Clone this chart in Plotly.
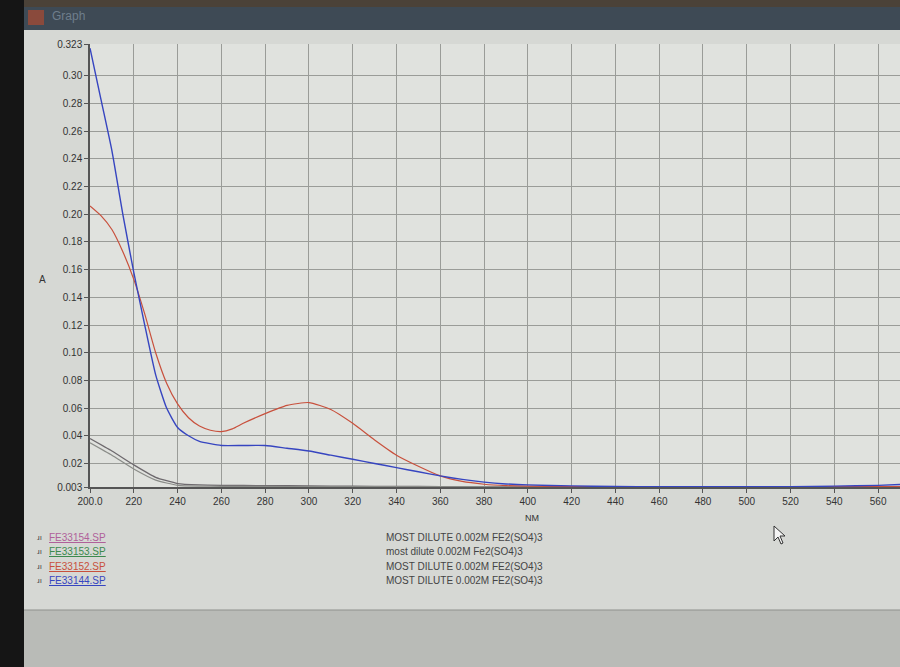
import plotly.graph_objects as go

# ---------------- data ----------------
wl_blue = [200, 205, 210, 215, 220, 225, 230, 235, 240, 245, 250, 260, 270, 280, 290, 300, 310, 320,
           330, 340, 350, 360, 370, 380, 390, 400, 420, 440, 460, 480, 500, 520, 540, 560, 570]
a_blue = [0.320, 0.283, 0.246, 0.200, 0.158, 0.120, 0.084, 0.060, 0.046, 0.040, 0.036, 0.033, 0.033,
          0.033, 0.031, 0.029, 0.026, 0.023, 0.020, 0.017, 0.014, 0.011, 0.0085, 0.0065, 0.0052, 0.0045,
          0.0038, 0.0034, 0.0032, 0.0032, 0.0032, 0.0032, 0.0036, 0.0042, 0.0048]

wl_red = [200, 205, 210, 215, 220, 225, 230, 235, 240, 245, 250, 255, 260, 265, 270, 280, 290, 300,
          310, 320, 330, 340, 350, 360, 370, 380, 390, 400, 420, 440, 480, 520, 560, 570]
a_red = [0.206, 0.199, 0.189, 0.173, 0.153, 0.128, 0.100, 0.078, 0.063, 0.053, 0.047, 0.044, 0.043,
         0.045, 0.049, 0.056, 0.062, 0.064, 0.059, 0.049, 0.037, 0.026, 0.018, 0.011, 0.007, 0.005,
         0.004, 0.0036, 0.0033, 0.0032, 0.0032, 0.0032, 0.0032, 0.0032]

wl_g1 = [200, 210, 220, 230, 240, 250, 260, 280, 300, 320, 340, 360, 400, 450, 500, 570]
a_g1 = [0.038, 0.029, 0.019, 0.010, 0.0055, 0.0045, 0.0042, 0.0040, 0.0038, 0.0036, 0.0034, 0.0033,
        0.0032, 0.0032, 0.0032, 0.0032]

wl_g2 = [200, 210, 220, 230, 240, 250, 260, 280, 300, 320, 340, 360, 400, 450, 500, 570]
a_g2 = [0.035, 0.026, 0.016, 0.008, 0.0042, 0.0036, 0.0035, 0.0034, 0.0033, 0.0032, 0.0032, 0.0032,
        0.0032, 0.0032, 0.0032, 0.0032]

x_ticks = [200, 220, 240, 260, 280, 300, 320, 340, 360, 380, 400, 420, 440, 460, 480, 500, 520, 540, 560]
x_ticktext = ["200.0"] + [str(v) for v in x_ticks[1:]]
y_ticks = [0.003, 0.02, 0.04, 0.06, 0.08, 0.10, 0.12, 0.14, 0.16, 0.18, 0.20, 0.22, 0.24, 0.26,
           0.28, 0.30, 0.323]
y_ticktext = ["0.003", "0.02", "0.04", "0.06", "0.08", "0.10", "0.12", "0.14", "0.16", "0.18",
              "0.20", "0.22", "0.24", "0.26", "0.28", "0.30", "0.323"]

files = ["FE33154.SP", "FE33153.SP", "FE33152.SP", "FE33144.SP"]
descriptions = ["MOST DILUTE 0.002M FE2(SO4)3", "most dilute 0.002M Fe2(SO4)3",
                "MOST DILUTE 0.002M FE2(SO4)3", "MOST DILUTE 0.002M FE2(SO4)3"]
file_colors = ["#b0609a", "#3d8a4e", "#c8503c", "#3645c0"]

# ---------------- figure ----------------
W, H = 900, 667
L, R, T, B = 90, 0, 44, 180
PW, PH = W - L - R, H - T - B


def px(x):
    return (x - L) / PW


def py(y):
    return (H - B - y) / PH


fig = go.Figure()
series = [
    (wl_g1, a_g1, "#6e6a6e", 1.3),
    (wl_g2, a_g2, "#8a8c88", 1.2),
    (wl_red, a_red, "#c8503c", 1.2),
    (wl_blue, a_blue, "#3645c0", 1.4),
]
for x, y, c, w in series:
    fig.add_trace(go.Scatter(x=x, y=y, mode="lines", showlegend=False, hoverinfo="skip",
                             line=dict(color=c, width=w, shape="spline", smoothing=0.5)))

font = dict(family="Liberation Sans, Arial, sans-serif", size=10, color="#333333")

shapes = [
    # dark monitor border on the left
    dict(type="rect", xref="paper", yref="paper", x0=px(0), x1=px(24), y0=py(667), y1=py(0),
         fillcolor="#151515", line=dict(width=0), layer="below"),
    # title bar
    dict(type="rect", xref="paper", yref="paper", x0=px(24), x1=px(900), y0=py(30), y1=py(0),
         fillcolor="#3e4a55", line=dict(width=0), layer="below"),
    dict(type="rect", xref="paper", yref="paper", x0=px(24), x1=px(900), y0=py(7), y1=py(0),
         fillcolor="#4b4238", line=dict(width=0), layer="below"),
    dict(type="rect", xref="paper", yref="paper", x0=px(28), x1=px(44), y0=py(25), y1=py(10),
         fillcolor="#8a4a3c", line=dict(width=0), layer="below"),
    # lower grey area of the window
    dict(type="rect", xref="paper", yref="paper", x0=px(24), x1=px(900), y0=py(667), y1=py(610),
         fillcolor="#b9bbb7", line=dict(width=0), layer="below"),
    dict(type="line", xref="paper", yref="paper", x0=px(24), x1=px(900), y0=py(610), y1=py(610),
         line=dict(color="#8f918d", width=1)),
    # mouse cursor
    dict(type="path", xref="paper", yref="paper",
         path=f"M {px(774)} {py(526)} L {px(774)} {py(541)} L {px(778)} {py(537)} L {px(781)} {py(544)} "
              f"L {px(783)} {py(543)} L {px(780)} {py(536)} L {px(785)} {py(536)} Z",
         fillcolor="#f4f4f4", line=dict(color="#333", width=1)),
]

annotations = [
    dict(text="Graph", x=px(50), y=py(16), xref="paper", yref="paper", showarrow=False,
         xanchor="left", yanchor="middle", font=dict(family="Liberation Sans", size=12, color="#6f7e8c")),
    dict(text="A", x=px(42), y=py(279), xref="paper", yref="paper", showarrow=False,
         xanchor="center", yanchor="middle", font=font),
    dict(text="NM", x=px(532), y=py(518), xref="paper", yref="paper", showarrow=False,
         xanchor="center", yanchor="middle", font=dict(family=font["family"], size=9, color="#333")),
]
rows_y = [537, 551, 566, 580]
for f, d, c, yy in zip(files, descriptions, file_colors, rows_y):
    annotations.append(dict(text="<span style='text-decoration:underline'>" + f + "</span>",
                            x=px(47), y=py(yy), xref="paper", yref="paper", showarrow=False,
                            xanchor="left", yanchor="middle",
                            font=dict(family=font["family"], size=10, color=c)))
    annotations.append(dict(text="ɹı", x=px(35), y=py(yy), xref="paper", yref="paper", showarrow=False,
                            xanchor="left", yanchor="middle",
                            font=dict(family=font["family"], size=8, color="#444")))
    annotations.append(dict(text=d, x=px(384), y=py(yy), xref="paper", yref="paper", showarrow=False,
                            xanchor="left", yanchor="middle",
                            font=dict(family=font["family"], size=10, color="#444")))

fig.update_layout(
    width=W, height=H,
    margin=dict(l=L, r=R, t=T, b=B, pad=0),
    paper_bgcolor="#d6d8d4",
    plot_bgcolor="#e0e2de",
    font=font,
    shapes=shapes,
    annotations=annotations,
    xaxis=dict(range=[200, 570], tickmode="array", tickvals=x_ticks, ticktext=x_ticktext,
               showgrid=True, gridcolor="#9a9c98", gridwidth=1, zeroline=False,
               showline=True, linecolor="#555555", linewidth=1.5, ticks="outside", ticklen=4,
               tickcolor="#555555", tickfont=font, fixedrange=True),
    yaxis=dict(range=[0.003, 0.323], tickmode="array", tickvals=y_ticks, ticktext=y_ticktext,
               showgrid=True, gridcolor="#9a9c98", gridwidth=1, zeroline=False,
               showline=True, linecolor="#555555", linewidth=1.5, ticks="outside", ticklen=4,
               tickcolor="#555555", tickfont=font, fixedrange=True),
)

fig.write_html("out.html", config={"displayModeBar": False},
               post_script="document.body.style.margin='0';document.body.style.overflow='hidden';")
